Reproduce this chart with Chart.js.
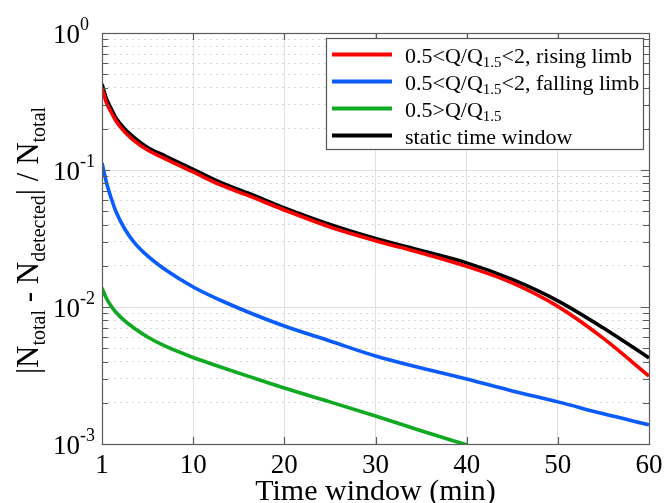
<!DOCTYPE html>
<html>
<head>
<meta charset="utf-8">
<script src="https://cdn.jsdelivr.net/npm/chart.js@4.4.0/dist/chart.umd.min.js"></script>
<style>
  html, body { margin: 0; padding: 0; background: #fff; }
</style>
</head>
<body>
<canvas id="chart" width="670" height="503"></canvas>
<script>
// DATA (x = position on the time axis, the first tick is labelled "1")
const timePos = [0, 0.5, 1, 1.5, 2.5, 3.5, 5, 7, 10, 13, 16, 20, 25, 30, 35, 40, 45, 50, 55, 60];

const risingLimb  = [0.397, 0.308, 0.265, 0.230, 0.189, 0.164, 0.140, 0.120, 0.0967, 0.0778, 0.0652, 0.0511, 0.0384, 0.0305, 0.0248, 0.0198, 0.0150, 0.0101, 0.00590, 0.00313];
const fallingLimb = [0.1125, 0.0804, 0.0625, 0.0502, 0.0371, 0.0298, 0.0236, 0.0186, 0.0140, 0.0112, 0.0092, 0.00727, 0.00565, 0.00439, 0.00359, 0.00298, 0.00244, 0.00203, 0.00166, 0.00138];
const lowFlow     = [0.01376, 0.01154, 0.01017, 0.00920, 0.00791, 0.00703, 0.00604, 0.00515, 0.00428, 0.00365, 0.00313, 0.00256, 0.00203, 0.00160, 0.00125, 0.000986, null, null, null, null];
const staticWin   = [0.424, 0.330, 0.281, 0.242, 0.199, 0.173, 0.146, 0.126, 0.101, 0.0811, 0.0679, 0.0528, 0.0400, 0.0316, 0.0258, 0.0210, 0.0159, 0.0111, 0.00703, 0.00425];

const seriesNames = ['0.5<Q/Q1.5<2, rising limb', '0.5<Q/Q1.5<2, falling limb', '0.5>Q/Q1.5', 'static time window'];
const seriesColors = ['#ff0000', '#0a5cff', '#10aa22', '#000000'];

const xTickPos = [0, 10, 20, 30, 40, 50, 60];
const xTickLabels = ['1', '10', '20', '30', '40', '50', '60'];
const yDecades = [1, 0.1, 0.01, 0.001];
const yExponents = ['0', '-1', '-2', '-3'];

const FONT = '"Liberation Serif", "Times New Roman", serif';

function isDecade(v) {
  const l = Math.log10(v);
  return Math.abs(l - Math.round(l)) < 1e-9;
}

// all 1..9 gridlines for each decade
const yGridVals = [];
[0.001, 0.01, 0.1].forEach(d => {
  for (let k = 1; k < 10; k++) yGridVals.push(+(d * k).toPrecision(3));
});
yGridVals.push(1);

function toPoints(arr) {
  return timePos.map((t, i) => ({ x: t, y: arr[i] }));
}

// text made of parts [text, size, dy]
function richWidth(ctx, parts) {
  let w = 0;
  parts.forEach(p => { ctx.font = p[1] + 'px ' + FONT; w += ctx.measureText(p[0]).width; });
  return w;
}
function drawRich(ctx, parts, x, y) {
  let cx = x;
  parts.forEach(p => {
    ctx.font = p[1] + 'px ' + FONT;
    ctx.fillText(p[0], cx, y + p[2]);
    cx += ctx.measureText(p[0]).width;
  });
}

const legendRows = [
  [['0.5<Q/Q', 22, 0], ['1.5', 15, 4], ['<2, rising limb', 22, 0]],
  [['0.5<Q/Q', 22, 0], ['1.5', 15, 4], ['<2, falling limb', 22, 0]],
  [['0.5>Q/Q', 22, 0], ['1.5', 15, 4]],
  [['static time window', 22, 0]]
];

const yTitle = [
  ['|N', 31, 0], ['total', 20, 7], [' - N', 31, 0], ['detected', 20, 7],
  ['| / N', 31, 0], ['total', 20, 7]
];

const axesDecor = {
  id: 'axesDecor',
  afterDraw(chart) {
    const { ctx, chartArea: a, scales: { x, y } } = chart;
    ctx.save();

    // box + inward ticks
    ctx.strokeStyle = '#5c5c5c';
    ctx.lineWidth = 1.2;
    ctx.strokeRect(a.left + 0.5, a.top + 0.5, a.right - a.left, a.bottom - a.top);
    ctx.beginPath();
    xTickPos.forEach(v => {
      if (v === 0 || v === 60) return;
      const px = Math.round(x.getPixelForValue(v)) + 0.5;
      ctx.moveTo(px, a.bottom); ctx.lineTo(px, a.bottom - 7);
      ctx.moveTo(px, a.top); ctx.lineTo(px, a.top + 7);
    });
    yGridVals.forEach(v => {
      const py = Math.round(y.getPixelForValue(v)) + 0.5;
      const len = isDecade(v) ? 8 : 6;
      ctx.moveTo(a.left, py); ctx.lineTo(a.left + len, py);
      ctx.moveTo(a.right, py); ctx.lineTo(a.right - len, py);
    });
    ctx.stroke();

    ctx.fillStyle = '#000';
    ctx.textBaseline = 'alphabetic';

    // x tick labels
    ctx.textAlign = 'center';
    ctx.font = '27px ' + FONT;
    xTickPos.forEach((v, i) => {
      ctx.fillText(xTickLabels[i], x.getPixelForValue(v), a.bottom + 29);
    });

    // x title
    ctx.font = '30px ' + FONT;
    ctx.fillText('Time window (min)', (a.left + a.right) / 2, 500);

    // y tick labels 10^n
    ctx.textAlign = 'left';
    yDecades.forEach((v, i) => {
      const py = y.getPixelForValue(v);
      drawRich(ctx, [['10', 27, 10], [yExponents[i], 18, -3]], 53, py);
    });

    // y title, rotated
    ctx.save();
    ctx.translate(38, (a.top + a.bottom) / 2 + 2);
    ctx.rotate(-Math.PI / 2);
    const w = richWidth(ctx, yTitle);
    drawRich(ctx, yTitle, -w / 2, 0);
    ctx.restore();

    // legend
    ctx.fillStyle = '#fff';
    ctx.fillRect(326.5, 38.5, 317, 111);
    ctx.strokeStyle = '#555';
    ctx.lineWidth = 1.2;
    ctx.strokeRect(326.5, 38.5, 317, 111);
    legendRows.forEach((row, i) => {
      const ry = 54.5 + i * 27;
      ctx.strokeStyle = seriesColors[i];
      ctx.lineWidth = 4;
      ctx.beginPath();
      ctx.moveTo(332, ry); ctx.lineTo(392, ry);
      ctx.stroke();
      ctx.fillStyle = '#000';
      drawRich(ctx, row, 405, ry + 8);
    });

    ctx.restore();
  }
};

const datasets = [risingLimb, fallingLimb, lowFlow, staticWin].map((arr, i) => ({
  label: seriesNames[i],
  data: toPoints(arr),
  borderColor: seriesColors[i],
  backgroundColor: seriesColors[i],
  borderWidth: 3.6,
  pointRadius: 0,
  cubicInterpolationMode: 'monotone',
  clip: 0,
  spanGaps: false
}));

new Chart(document.getElementById('chart').getContext('2d'), {
  type: 'line',
  data: { datasets: datasets },
  options: {
    responsive: false,
    animation: false,
    layout: { padding: { left: 102, top: 33, right: 21, bottom: 59 } },
    plugins: { legend: { display: false }, tooltip: { enabled: false } },
    scales: {
      x: {
        type: 'linear',
        min: 0,
        max: 60,
        afterBuildTicks: (s) => { s.ticks = xTickPos.map(v => ({ value: v })); },
        ticks: { display: false },
        grid: {
          drawTicks: false,
          color: (c) => (c.tick && c.tick.value > 0 && c.tick.value < 60) ? '#e0e0e0' : 'rgba(0,0,0,0)'
        },
        border: { display: false }
      },
      y: {
        type: 'logarithmic',
        min: 0.001,
        max: 1,
        afterBuildTicks: (s) => { s.ticks = yGridVals.map(v => ({ value: v })); },
        ticks: { display: false },
        grid: {
          drawTicks: false,
          color: (c) => {
            if (!c.tick) return 'rgba(0,0,0,0)';
            const v = c.tick.value;
            if (v === 1 || v === 0.001) return 'rgba(0,0,0,0)';
            return isDecade(v) ? '#e0e0e0' : '#cacaca';
          }
        },
        border: {
          display: false,
          dash: (c) => (c.tick && !isDecade(c.tick.value)) ? [1.5, 4.5] : []
        }
      }
    }
  },
  plugins: [axesDecor]
});
</script>
</body>
</html>
